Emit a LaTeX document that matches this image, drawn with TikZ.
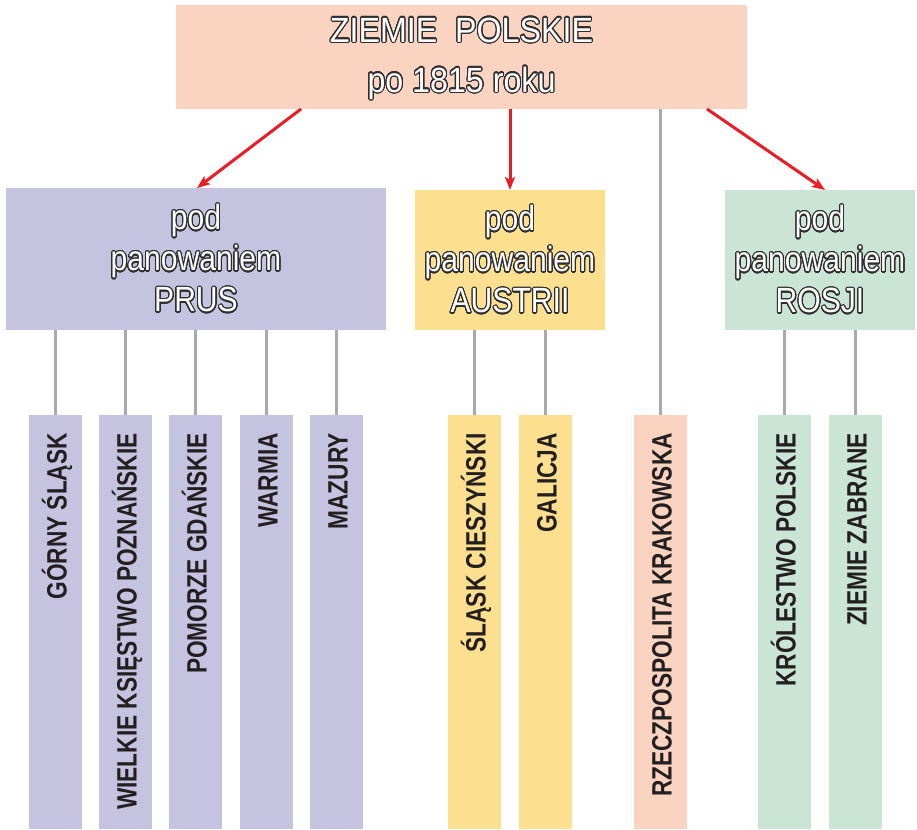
\documentclass[tikz,border=0pt]{standalone}
\usepackage{fontspec}
\setmainfont{Liberation Sans}[FakeStretch=0.86]
\newfontfamily\headfont{Liberation Sans}[FakeStretch=0.92]
\newfontfamily\barfont{Liberation Sans Bold}[FakeStretch=0.81]
\usepackage{contour}
\contourlength{1.1pt}
\contournumber{32}
\usetikzlibrary{arrows.meta}
\definecolor{peach}{HTML}{FBD3C1}
\definecolor{lav}{HTML}{C6C3E1}
\definecolor{yel}{HTML}{FDE08F}
\definecolor{grn}{HTML}{CAE5D5}
\definecolor{lgray}{HTML}{A7A9AC}
\definecolor{rred}{HTML}{EC1C24}
\definecolor{outl}{HTML}{2E2E2E}
\definecolor{btext}{HTML}{231F20}
\newcommand{\ot}[1]{\contour{outl}{#1}}
\tikzset{
  boxnode/.style={draw=none, inner sep=0pt, outer sep=0pt, text=white, align=center},
  barnode/.style={draw=none, inner sep=0pt, outer sep=0pt, minimum width=53pt, minimum height=414pt},
  bartext/.style={rotate=90, anchor=base east, inner sep=0pt, text=btext, font=\barfont\fontsize{28}{28}\selectfont},
  conn/.style={draw=lgray, line width=3pt},
  redarrow/.style={draw=rred, line width=3pt, -{Stealth[length=13pt,width=10pt,inset=3pt]}}
}
\begin{document}
\begin{tikzpicture}[x=1pt,y=-1pt]
\useasboundingbox (0,0) rectangle (917,829);
% main boxes
\node[boxnode, fill=peach, minimum width=571pt, minimum height=104pt] (top) at (461.5,57) {};
\node[boxnode, font=\headfont\fontsize{35}{50}\selectfont] (toptext) at ([yshift=-2pt]top.center) {\ot{ZIEMIE\ \ POLSKIE}\\\ot{po 1815 roku}};
\node[boxnode, fill=lav, minimum width=380pt, minimum height=142pt, font=\fontsize{35}{41}\selectfont] (prus) at (196,259) {\ot{pod}\\\ot{panowaniem}\\\ot{PRUS}};
\node[boxnode, fill=yel, minimum width=190pt, minimum height=140pt, font=\fontsize{35}{41}\selectfont] (aus) at (510,260) {\ot{pod}\\\ot{panowaniem}\\\ot{AUSTRII}};
\node[boxnode, fill=grn, minimum width=190pt, minimum height=140pt, font=\fontsize{35}{41}\selectfont] (ros) at (820,260) {\ot{pod}\\\ot{panowaniem}\\\ot{ROSJI}};
% bars
\foreach \n/\cx/\col in {b1/55.5/lav, b2/125.5/lav, b3/195.5/lav, b4/266.5/lav, b5/336.5/lav, b6/474.5/yel, b7/545.5/yel, b8/660.5/peach, b9/784.5/grn, b10/855.5/grn}{
  \node[barnode, fill=\col] (\n) at (\cx,622) {};
}
% bar labels
\node[bartext] (t1) at ([xshift=11pt,yshift=-18pt]b1.north) {GÓRNY ŚLĄSK};
\node[bartext] (t2) at ([xshift=11pt,yshift=-18pt]b2.north) {WIELKIE KSIĘSTWO POZNAŃSKIE};
\node[bartext] (t3) at ([xshift=11pt,yshift=-18pt]b3.north) {POMORZE GDAŃSKIE};
\node[bartext] (t4) at ([xshift=11pt,yshift=-18pt]b4.north) {WARMIA};
\node[bartext] (t5) at ([xshift=11pt,yshift=-18pt]b5.north) {MAZURY};
\node[bartext] (t6) at ([xshift=11pt,yshift=-18pt]b6.north) {ŚLĄSK CIESZYŃSKI};
\node[bartext] (t7) at ([xshift=11pt,yshift=-18pt]b7.north) {GALICJA};
\node[bartext] (t8) at ([xshift=11pt,yshift=-18pt]b8.north) {RZECZPOSPOLITA KRAKOWSKA};
\node[bartext] (t9) at ([xshift=11pt,yshift=-18pt]b9.north) {KRÓLESTWO POLSKIE};
\node[bartext] (t10) at ([xshift=11pt,yshift=-18pt]b10.north) {ZIEMIE ZABRANE};
% gray connectors
\foreach \b/\p in {b1/prus, b2/prus, b3/prus, b4/prus, b5/prus, b6/aus, b7/aus, b8/top, b9/ros, b10/ros}{
  \draw[conn] (\p.south -| \b.north) -- (\b.north);
}
% red arrows
\draw[redarrow] ([xshift=125pt]top.south west) -- ([xshift=191pt]prus.north west);
\draw[redarrow] ([xshift=334pt]top.south west) -- (aus.north);
\draw[redarrow] ([xshift=531pt]top.south west) -- ([xshift=100pt]ros.north west);
\end{tikzpicture}
\end{document}
